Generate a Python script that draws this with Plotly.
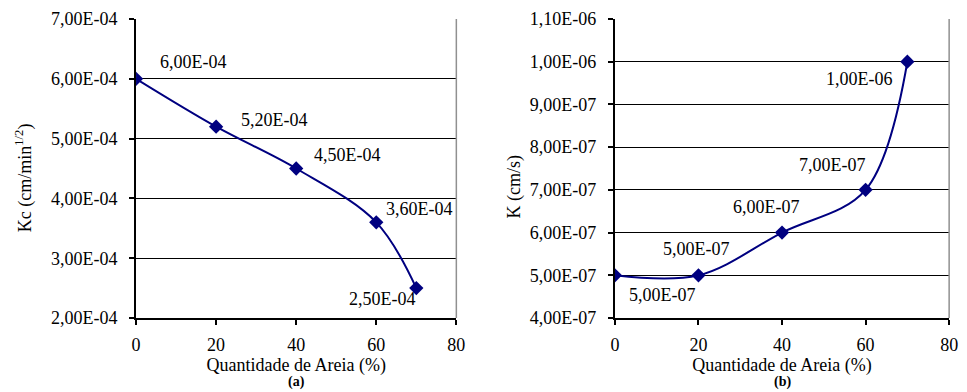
import plotly.graph_objects as go

# Sand content (%) and measured coefficients
areia = [0, 20, 40, 60, 70]
kc = [6.0e-4, 5.2e-4, 4.5e-4, 3.6e-4, 2.5e-4]
k = [5.0e-7, 5.0e-7, 6.0e-7, 7.0e-7, 1.0e-6]

x_ticks = [0, 20, 40, 60, 80]
kc_ticks = [2e-4, 3e-4, 4e-4, 5e-4, 6e-4, 7e-4]
k_ticks = [4e-7, 5e-7, 6e-7, 7e-7, 8e-7, 9e-7, 1.0e-6, 1.1e-6]

# label offsets (px) for each data label
kc_offsets = [(57, -17), (58, -7), (51, -14), (43, -13), (-34, 11)]
k_offsets = [(48, 20), (-2, -26), (-16, -26), (-33, -25), (-48, 17)]


def fmt(v):
    return f"{v:.2E}".replace(".", ",")


NAVY = "#000080"
FONT = "Liberation Serif"
FS = 18

fig = go.Figure()

fig.add_trace(go.Scatter(
    x=areia, y=kc, mode="lines+markers", xaxis="x", yaxis="y",
    line=dict(color=NAVY, width=2, shape="spline", smoothing=1.0),
    marker=dict(symbol="diamond", size=11, color=NAVY),
    showlegend=False,
))
fig.add_trace(go.Scatter(
    x=areia, y=k, mode="lines+markers", xaxis="x2", yaxis="y2",
    line=dict(color=NAVY, width=2, shape="spline", smoothing=1.0),
    marker=dict(symbol="diamond", size=11, color=NAVY),
    showlegend=False,
))

annotations = []
for xv, yv, (dx, dy) in zip(areia, kc, kc_offsets):
    annotations.append(dict(x=xv, y=yv, xref="x", yref="y", text=fmt(yv),
                            showarrow=False, xshift=dx, yshift=-dy,
                            font=dict(family=FONT, size=FS, color="black")))
for xv, yv, (dx, dy) in zip(areia, k, k_offsets):
    annotations.append(dict(x=xv, y=yv, xref="x2", yref="y2", text=fmt(yv),
                            showarrow=False, xshift=dx, yshift=-dy,
                            font=dict(family=FONT, size=FS, color="black")))

# vertical axis titles
annotations.append(dict(x=0.0207, y=0.47, xref="paper", yref="paper",
                        text="Kc (cm/min<sup>1/2</sup>)", textangle=-90, showarrow=False,
                        xanchor="center", yanchor="middle",
                        font=dict(family=FONT, size=FS, color="black")))
annotations.append(dict(x=0.5346, y=0.438, xref="paper", yref="paper",
                        text="K (cm/s)", textangle=-90, showarrow=False,
                        xanchor="center", yanchor="middle",
                        font=dict(family=FONT, size=FS, color="black")))

# panel captions
annotations.append(dict(x=0.5, y=-0.2475, xref="x domain", yref="y domain", text="<b>(a)</b>",
                        showarrow=False, yanchor="bottom",
                        font=dict(family=FONT, size=14, color="black")))
annotations.append(dict(x=0.5, y=-0.2475, xref="x2 domain", yref="y2 domain", text="<b>(b)</b>",
                        showarrow=False, yanchor="bottom",
                        font=dict(family=FONT, size=14, color="black")))

axis_common = dict(
    showline=True, linecolor="black", linewidth=2,
    ticks="outside", ticklen=5, tickcolor="black", tickwidth=1.5,
    tickfont=dict(family=FONT, size=FS, color="black"),
    zeroline=False,
)

fig.update_layout(
    width=967, height=392,
    margin=dict(l=0, r=0, t=19, b=74),
    paper_bgcolor="white", plot_bgcolor="white",
    font=dict(family=FONT, size=FS, color="black"),
    xaxis=dict(domain=[0.1375, 0.4736], range=[0, 80], tickvals=x_ticks,
               showgrid=False, anchor="y", ticklabelstandoff=4,
               title=dict(text="Quantidade de Areia (%)", standoff=0,
                          font=dict(family=FONT, size=FS)),
               **axis_common),
    yaxis=dict(range=[2e-4, 7e-4], tickvals=kc_ticks,
               ticktext=[fmt(v) for v in kc_ticks],
               showgrid=True, gridcolor="black", gridwidth=1, anchor="x",
               ticklabelstandoff=8,
               **axis_common),
    xaxis2=dict(domain=[0.640, 0.9907], range=[0, 80], tickvals=x_ticks,
                showgrid=False, anchor="y2", ticklabelstandoff=4,
                title=dict(text="Quantidade de Areia (%)", standoff=0,
                           font=dict(family=FONT, size=FS)),
                **axis_common),
    yaxis2=dict(range=[4e-7, 1.1e-6], tickvals=k_ticks,
                ticktext=[fmt(v) for v in k_ticks],
                showgrid=True, gridcolor="black", gridwidth=1, anchor="x2",
                ticklabelstandoff=8,
                **axis_common),
    annotations=annotations,
    shapes=[
        dict(type="line", xref="x domain", yref="y domain", x0=1, x1=1, y0=0, y1=1,
             line=dict(color="#909090", width=1.5)),
        dict(type="line", xref="x2 domain", yref="y2 domain", x0=1, x1=1, y0=0, y1=1,
             line=dict(color="#909090", width=1.5)),
    ],
)

fig.write_html("out.html")
